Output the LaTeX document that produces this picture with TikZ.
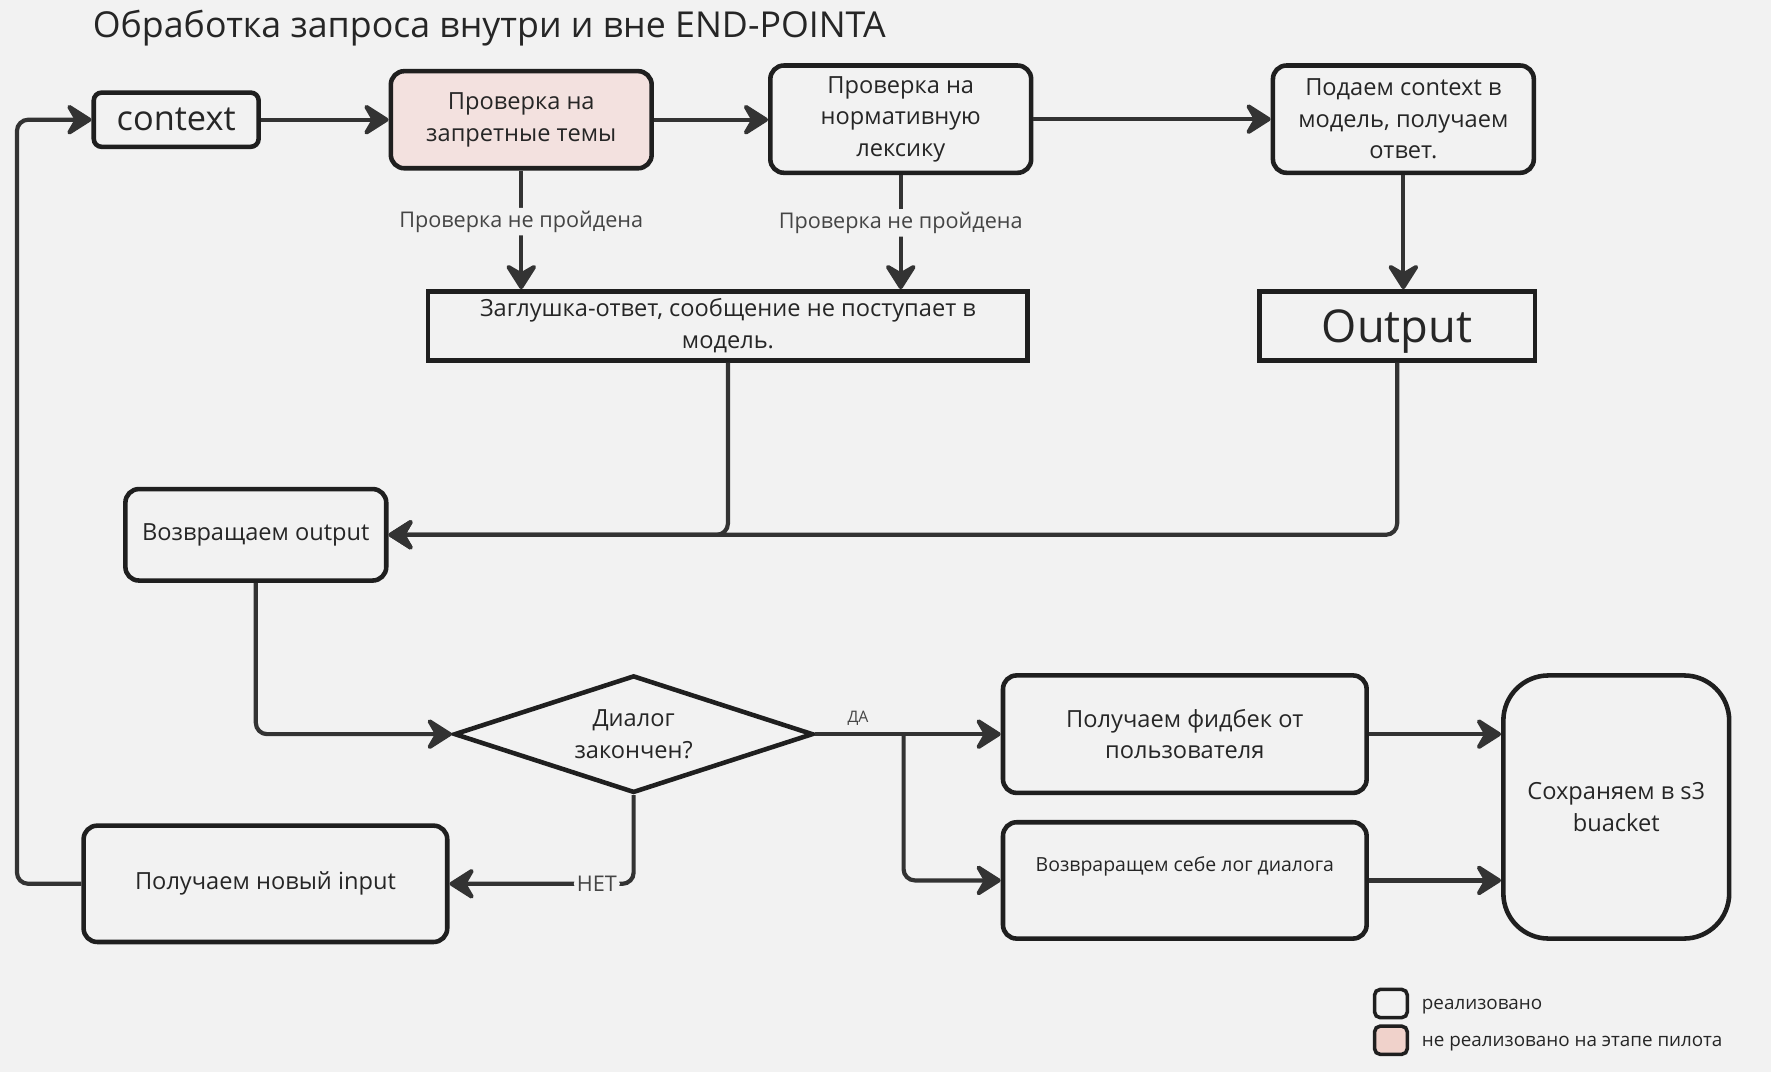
\documentclass[tikz,border=0pt]{standalone}
\usepackage{fontspec}
\setmainfont{Open Sans}
\usepackage{xcolor}
\usepackage{tikz}
\usetikzlibrary{shapes}
\usetikzlibrary{positioning}
\usetikzlibrary{arrows.meta}
\definecolor{fon}{rgb}{0.949,0.949,0.949}
\definecolor{ink}{rgb}{0.12,0.12,0.12}
\definecolor{strelka}{rgb}{0.2,0.2,0.2}
\definecolor{tekst}{rgb}{0.15,0.15,0.15}
\definecolor{seryj}{rgb}{0.27,0.27,0.27}
\definecolor{rozovyj}{rgb}{0.953,0.882,0.875}
\definecolor{legrozovyj}{rgb}{0.941,0.824,0.796}

\begin{document}
\begin{tikzpicture}[
	x=0.02cm, y=-0.02cm,
	roundbox/.style={draw=ink, line width=2.3pt, rounded corners=0.24cm, fill=fon, align=center, text=tekst, inner sep=0pt, font=\fontsize{11.9}{15.9}\selectfont},
	sharpbox/.style={roundbox, rounded corners=0pt},
	flow/.style={draw=strelka, line width=2.1pt, rounded corners=0.2cm, -{Stealth[length=15pt,width=19pt,inset=5.5pt,round]}},
	failnote/.style={fill=fon, text=seryj, inner sep=1.5pt, font=\fontsize{10.9}{12}\selectfont},
	legbox/.style={draw=ink, line width=1.8pt, rounded corners=0.1cm, minimum width=0.58cm, minimum height=0.5cm, inner sep=0pt},
	legtext/.style={anchor=west, inner sep=0pt, yshift=-1.5pt, text=tekst, font=\fontsize{9.5}{11}\selectfont}]
	\fill[fon] (0,0) rectangle (1568,949);
	\useasboundingbox (0,0) rectangle (1568,949);
	\node[anchor=west, text=tekst, font=\fontsize{18}{21}\selectfont] (title) at (76,25) {Обработка запроса внутри и вне END-POINTA};
	\node[roundbox, rounded corners=0.14cm, minimum width=2.92cm, minimum height=0.96cm, font=\fontsize{17.3}{20}\selectfont] (ctx) at (156,106) {context};
	\node[roundbox, fill=rozovyj, minimum width=4.62cm, minimum height=1.72cm] (zapret) at (461.5,106) {Проверка на\\запретные темы};
	\node[roundbox, minimum width=4.62cm, minimum height=1.9cm] (norma) at (797.5,105.5) {Проверка на\\нормативную\\лексику};
	\node[roundbox, minimum width=4.62cm, minimum height=1.9cm] (model) at (1242.5,105.5) {Подаем context в\\модель, получаем\\ответ.};
	\node[sharpbox, minimum width=10.62cm, minimum height=1.22cm] (zaglushka) at (644.5,288.5) {Заглушка-ответ, сообщение не поступает в\\модель.};
	\node[sharpbox, minimum width=4.88cm, minimum height=1.22cm, text depth=0pt, font=\fontsize{22.8}{26}\selectfont] (output) at (1237,288.5) {Output};
	\node[roundbox, minimum width=4.62cm, minimum height=1.62cm] (vozvrat) at (226.5,473.5) {Возвращаем output};
	\node[roundbox, rounded corners=0pt, diamond, aspect=3, minimum width=6.36cm, minimum height=2.08cm] (dialog) at (561,650) {Диалог\\закончен?};
	\node[roundbox, minimum width=6.44cm, minimum height=2.06cm] (novyj) at (235,782.5) {Получаем новый input};
	\node[roundbox, minimum width=6.44cm, minimum height=2.08cm] (fidbek) at (1049,650) {Получаем фидбек от\\пользователя};
	\node[roundbox, minimum width=6.44cm, minimum height=2.06cm, text depth=16pt, font=\fontsize{9.8}{11}\selectfont] (log) at (1049,779.5) {Возвраращем себе лог диалога};
	\node[roundbox, rounded corners=0.8cm, minimum width=4cm, minimum height=4.66cm] (s3) at (1431,714.5) {Сохраняем в s3\\buacket};
	\node[legbox, fill=fon] (leg1) at (1231.5,888.5) {};
	\node[legbox, fill=legrozovyj] (leg2) at (1231.5,921) {};
	\node[legtext, right=0.22cm of leg1] (legt1) {реализовано};
	\node[legtext, right=0.22cm of leg2] (legt2) {не реализовано на этапе пилота};
	\coordinate (razvilka) at (800,650);

	\draw[flow] (novyj.west) -- (15,782.5) |- (ctx.west);
	\draw[flow] (ctx.east) -- (zapret.west);
	\draw[flow] (zapret.east) -- (zapret.east -| norma.west);
	\draw[flow] (norma.east) -- (model.west);
	\draw[flow] (zapret.south) -- node[failnote, pos=0.43] {Проверка не пройдена} (zapret.south |- zaglushka.north);
	\draw[flow] (norma.south) -- node[failnote, pos=0.42] {Проверка не пройдена} (norma.south |- zaglushka.north);
	\draw[flow] (model.south) -- (model.south |- output.north);
	\draw[flow] (zaglushka.south) |- (vozvrat.east);
	\draw[flow] (output.south) |- (vozvrat.east);
	\draw[flow] (vozvrat.south) |- (dialog.west);
	\draw[flow] (dialog.south) |- node[failnote, pos=0.6] {НЕТ} (novyj.east);
	\draw[flow] (dialog.east) -- node[above, pos=0.23, text=seryj, font=\fontsize{8}{9}\selectfont] {ДА} (fidbek.west);
	\draw[flow] (razvilka) |- (log.west);
	\draw[flow] (fidbek.east) -- (fidbek.east -| s3.west);
	\draw[flow] (log.east) -- (log.east -| s3.west);
\end{tikzpicture}
\end{document}
